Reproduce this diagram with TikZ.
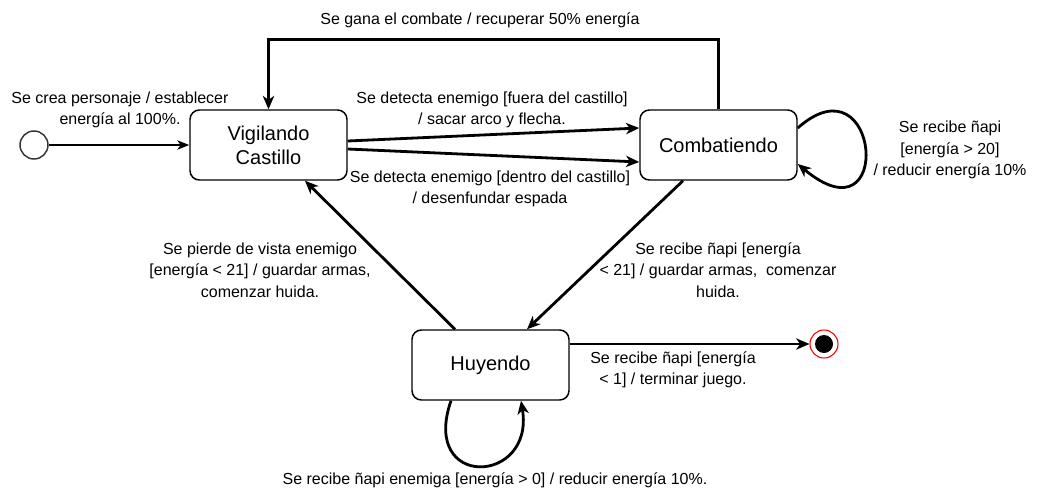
\documentclass[tikz,border=0pt]{standalone}
\usepackage{fontspec}
\setmainfont{Liberation Sans}
\usetikzlibrary{arrows.meta}
\begin{document}
\begin{tikzpicture}[x=0.75pt,y=-0.75pt,
  statebox/.style={draw=black,line width=1.1pt,rounded corners=7pt,minimum width=117.75pt,minimum height=52.5pt,inner sep=0pt,align=center,font=\fontsize{15}{18}\selectfont},
  lbl/.style={align=center,inner sep=0pt,font=\fontsize{12}{16}\selectfont},
  tr/.style={line width=2.1pt,-{Stealth[length=10pt,width=8.5pt,inset=3pt]}},
  trthin/.style={line width=1.1pt,-{Stealth[length=9pt,width=7pt,inset=2.5pt]}}]
\useasboundingbox (0,0) rectangle (1040,500);
\node[circle,draw=black!80,line width=1.1pt,minimum size=21pt,inner sep=0pt] (ini) at (34,145) {};
\node[statebox] (vig) at (268.5,145) {Vigilando\\Castillo};
\node[statebox] (comb) at (718.5,145) {Combatiendo};
\node[statebox] (huy) at (490.5,365) {Huyendo};
\node[circle,draw=red,line width=0.8pt,minimum size=21pt,inner sep=0pt] (fin) at (824,344) {};
\node[circle,fill=black,minimum size=13.5pt,inner sep=0pt] (finin) at (824,344) {};

\draw[trthin] (ini) -- (vig);
\draw[tr] (vig.east |- 0,141) -- (comb.west |- 0,128);
\draw[tr] (vig.east |- 0,149) -- (comb.west |- 0,162);
\draw[tr] (comb.north) -- ++(0,-70) -| (vig.north);
\draw[tr] (comb.east |- 0,128) .. controls (880,55) and (895,245) .. (comb.east |- 0,164);
\draw[tr] (683,0 |- comb.south) -- (527,0 |- huy.north);
\draw[tr] (455,0 |- huy.north) -- (305,0 |- vig.south);
\draw[tr] (huy.east |- 0,344) -- (fin);
\draw[tr] (451,0 |- huy.south) .. controls (420,490) and (535,485) .. (521,0 |- huy.south);

\node[lbl] (l1) at (120,110) {Se crea personaje / establecer\\energía al 100\%.};
\node[lbl] (l2) at (480,20) {Se gana el combate / recuperar 50\% energía};
\node[lbl] (l3) at (492,110) {Se detecta enemigo [fuera del castillo]\\/ sacar arco y flecha.};
\node[lbl] (l4) at (490,189) {Se detecta enemigo [dentro del castillo]\\/ desenfundar espada};
\node[lbl] (l5) at (950,150) {Se recibe ñapi\\{[}energía > 20]\\/ reducir energía 10\%};
\node[lbl] (l6) at (260,270) {Se pierde de vista enemigo\\{[}energía < 21] / guardar armas,\\comenzar huida.};
\node[lbl] (l7) at (718,270) {Se recibe ñapi [energía\\< 21] / guardar armas,\ \ comenzar\\huida.};
\node[lbl] (l8) at (673,370) {Se recibe ñapi [energía\\< 1] / terminar juego.};
\node[lbl] (l9) at (495,480) {Se recibe ñapi enemiga [energía > 0] / reducir energía 10\%.};
\end{tikzpicture}
\end{document}
